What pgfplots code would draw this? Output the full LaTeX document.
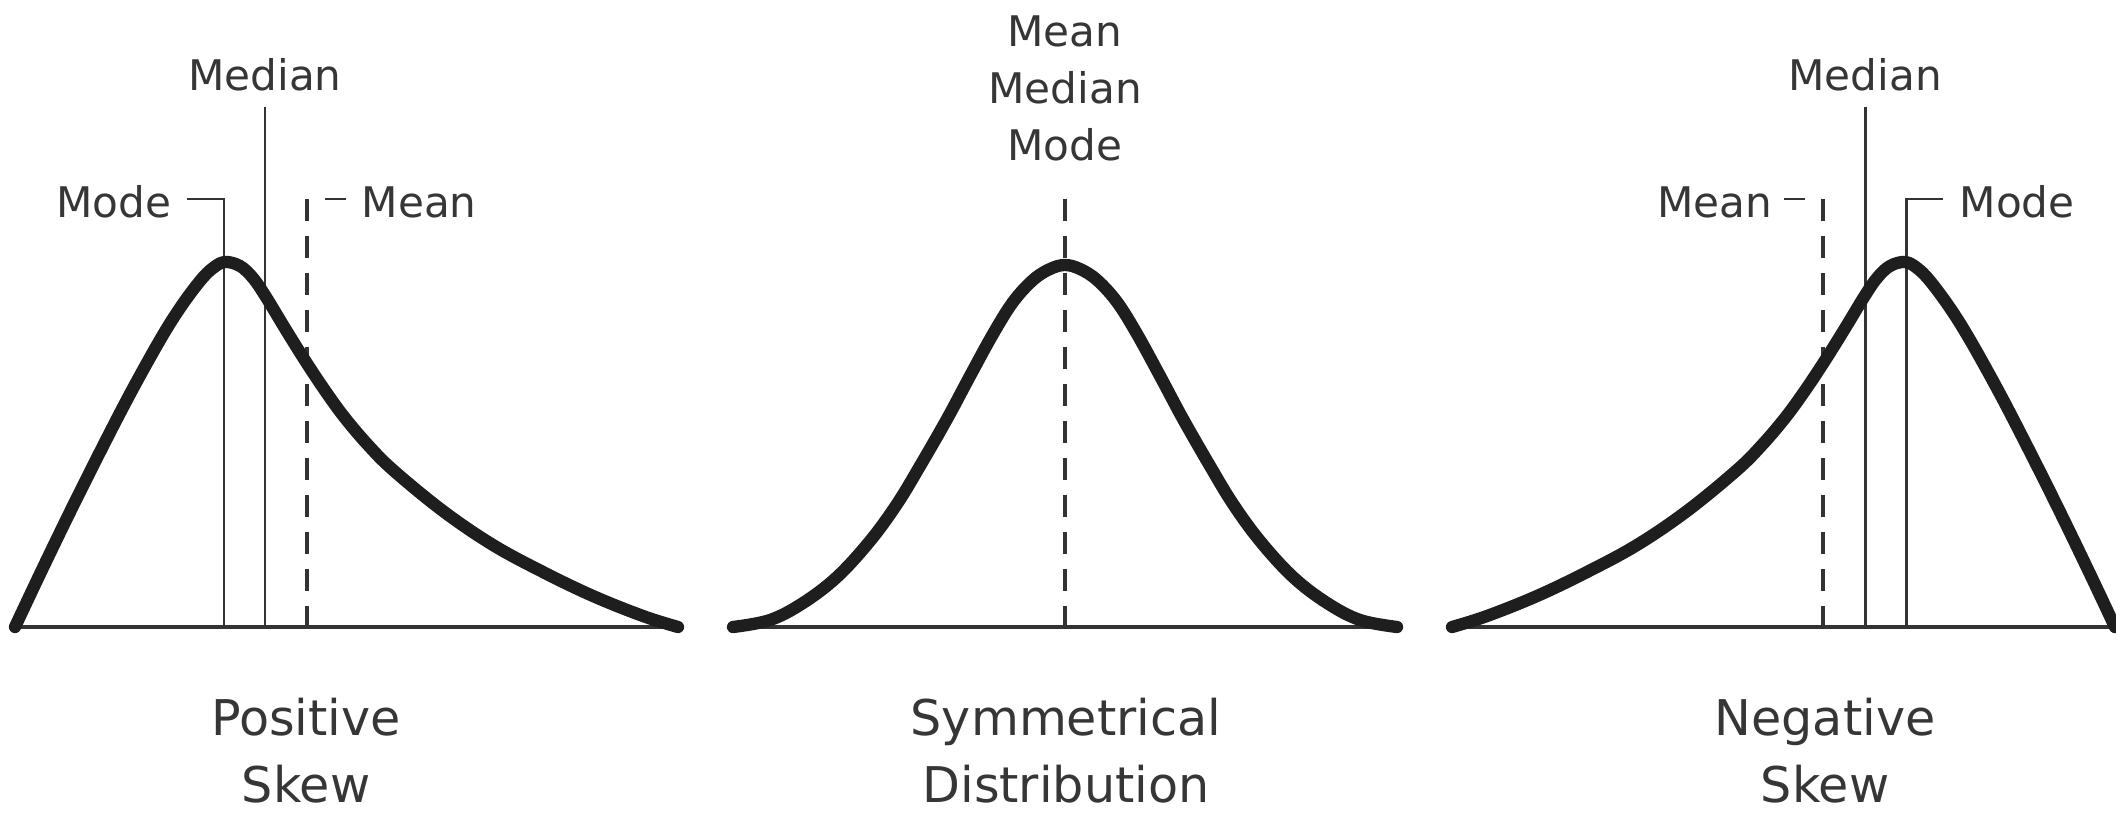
\documentclass[border=0pt]{standalone}
\usepackage{pgfplots}
\pgfplotsset{compat=1.18}
\usepackage{pgfplotstable}
\usepackage{fontspec}
\setmainfont{DejaVu Sans}

\definecolor{ink}{HTML}{1E1E1E}
\definecolor{rule}{HTML}{333333}
\definecolor{txt}{HTML}{363636}

\tikzset{
    curveln/.style={ink, line width=3.5pt, line cap=round, line join=round},
    thinln/.style={rule, line width=0.85pt},
    baseln/.style={rule, line width=1.1pt},
    dashln/.style={rule, line width=1.4pt, dash pattern=on 2.2mm off 1.5mm},
    lbl/.style={txt, inner sep=0pt, font=\fontsize{12}{14}\selectfont},
    ttl/.style={txt, inner sep=0pt, font=\fontsize{14}{17}\selectfont, anchor=base},
}

\pgfplotstableread{
x y
15 627
40 574
70 512
100 452
130 394
160 340
180 308
200 281
213 268
225 262
240 266
253 278
266 297
286 330
306 362
326 392
345 418
368 445
393 470
443 511
493 545
543 572
593 596
643 616
678 627
}\posskew

\pgfplotstableread{
x y
733 627
770 620
803 603
837 577
870 541
897 504
920 466
947 419
970 376
993 334
1013 302
1033 280
1050 269
1065 265
1080 269
1097 280
1117 302
1137 334
1160 376
1183 419
1210 466
1233 504
1260 541
1293 577
1327 603
1360 620
1397 627
}\symdist

\pgfplotstableread{
x y
1452 627
1487 616
1537 596
1587 572
1637 545
1687 511
1737 470
1762 445
1785 418
1804 392
1824 362
1844 330
1864 297
1877 278
1890 266
1905 262
1917 268
1930 281
1950 308
1970 340
2000 394
2030 452
2060 512
2090 574
2115 627
}\negskew

\begin{document}
\begin{tikzpicture}
\begin{axis}[
    name=ax,
    width=21.16cm, height=8.14cm,
    scale only axis,
    xmin=0, xmax=2116,
    ymin=0, ymax=814,
    y dir=reverse,
    hide axis,
    every axis plot/.append style={no marks},
]
% baselines
\addplot[baseln] coordinates {(15,627)(678,627)};
\addplot[baseln] coordinates {(733,627)(1397,627)};
\addplot[baseln] coordinates {(1452,627)(2116,627)};

% positive skew: mode, median, mean
\addplot[thinln] coordinates {(187,199)(224,199)(224,627)};
\addplot[thinln] coordinates {(265,107)(265,627)};
\addplot[thinln] coordinates {(325,199)(346,199)};
\addplot[dashln] coordinates {(307,199)(307,627)};

% symmetrical
\addplot[dashln] coordinates {(1065,199)(1065,627)};

% negative skew: mean, median, mode
\addplot[thinln] coordinates {(1784,199)(1805,199)};
\addplot[dashln] coordinates {(1823,199)(1823,627)};
\addplot[thinln] coordinates {(1865,107)(1865,627)};
\addplot[thinln] coordinates {(1943,199)(1906,199)(1906,627)};

% curves
\addplot[curveln, smooth, tension=0.6] table {\posskew};
\addplot[curveln, smooth, tension=0.6] table {\symdist};
\addplot[curveln, smooth, tension=0.6] table {\negskew};

% labels
\node[lbl, anchor=base east] at (axis cs:172,218) {Mode};
\node[lbl, anchor=base] at (axis cs:265,91) {Median};
\node[lbl, anchor=base west] at (axis cs:361,218) {Mean};

\node[lbl, anchor=base] at (axis cs:1065,47) {Mean};
\node[lbl, anchor=base] at (axis cs:1065,104) {Median};
\node[lbl, anchor=base] at (axis cs:1065,161) {Mode};

\node[lbl, anchor=base east] at (axis cs:1773,218) {Mean};
\node[lbl, anchor=base] at (axis cs:1865,91) {Median};
\node[lbl, anchor=base west] at (axis cs:1959,218) {Mode};

\node[ttl] at (axis cs:306,735) {Positive};
\node[ttl] at (axis cs:306,802) {Skew};
\node[ttl] at (axis cs:1066,735) {Symmetrical};
\node[ttl] at (axis cs:1066,802) {Distribution};
\node[ttl] at (axis cs:1825,735) {Negative};
\node[ttl] at (axis cs:1825,802) {Skew};
\end{axis}
\pgfresetboundingbox
\path (ax.south west) rectangle (ax.north east);
\end{tikzpicture}
\end{document}
